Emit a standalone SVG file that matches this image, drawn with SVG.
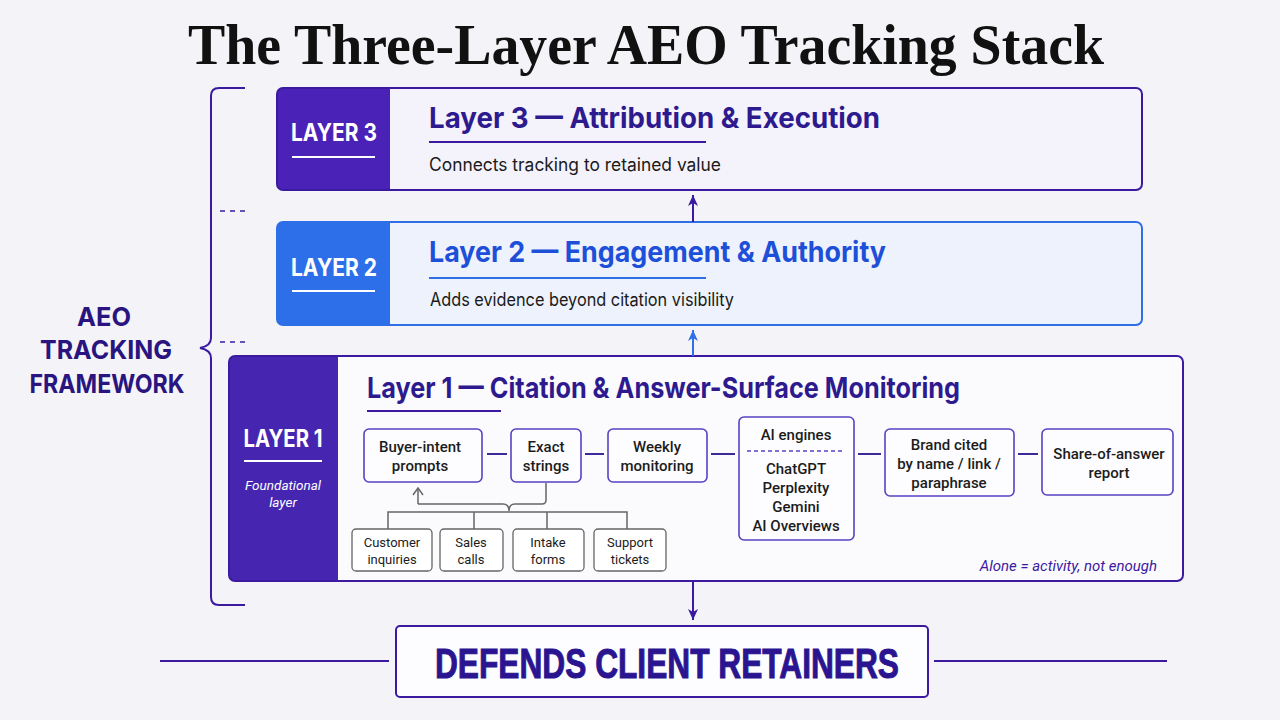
<svg xmlns="http://www.w3.org/2000/svg" width="1280" height="720" viewBox="0 0 1280 720">
<defs>
<style>
.title{font-family:"Liberation Serif","Times New Roman",serif;font-weight:700;font-size:56px;fill:#111}
.sans{font-family:"Roboto","Inter","Liberation Sans",sans-serif}
.lbl{font-family:"Inter","Roboto","Liberation Sans",sans-serif;font-weight:700;font-size:24px;fill:#fff;text-anchor:middle}
.ltitle{font-family:"Inter","Roboto","Liberation Sans",sans-serif;font-weight:700;font-size:29px}
.sub{font-family:"Inter","Roboto","Liberation Sans",sans-serif;font-size:18px;fill:#1a1a1a}
.node{fill:#fdfdff;stroke:#5a40c2;stroke-width:1.6}
.src{fill:#fff;stroke:#666;stroke-width:1.3}
.nt{font-family:"Roboto","Inter","Liberation Sans",sans-serif;font-weight:500;font-size:15px;fill:#1c1c1c;text-anchor:middle}
.st{font-family:"Roboto","Inter","Liberation Sans",sans-serif;font-size:13px;fill:#1c1c1c;text-anchor:middle}
.link{stroke:#3b2a9a;stroke-width:2;fill:none}
.tree{stroke:#666;stroke-width:1.5;fill:none}
.brk{stroke:#3b1aa0;stroke-width:2;fill:none}
.dash{stroke:#3b1aa0;stroke-width:1.6;stroke-dasharray:5 5;fill:none}
.side{font-family:"Inter","Roboto","Liberation Sans",sans-serif;font-weight:700;font-size:26px;fill:#2a1580;text-anchor:middle}
</style>
<marker id="ap" viewBox="0 0 12 12" refX="11" refY="6" markerWidth="12" markerHeight="12" markerUnits="userSpaceOnUse" orient="auto">
<path d="M0,1 L11,6 L0,11 L3,6 Z" fill="#3b1aa0"/>
</marker>
<marker id="ab" viewBox="0 0 12 12" refX="11" refY="6" markerWidth="12" markerHeight="12" markerUnits="userSpaceOnUse" orient="auto">
<path d="M0,1 L11,6 L0,11 L3,6 Z" fill="#2f6fe6"/>
</marker>
<marker id="ag" viewBox="0 0 12 12" refX="11" refY="6" markerWidth="12" markerHeight="12" markerUnits="userSpaceOnUse" orient="auto">
<path d="M4,1 L11,6 L4,11" fill="none" stroke="#666" stroke-width="1.5"/>
</marker>
</defs>
<rect width="1280" height="720" fill="#f4f4f8"/>

<text class="title" x="646" y="64" text-anchor="middle" textLength="916" lengthAdjust="spacingAndGlyphs">The Three-Layer AEO Tracking Stack</text>

<g id="framework-brace">
<path class="brk" d="M245,88 H219 Q211,88 211,96 V338 Q211,346 200,348 Q211,350 211,358 V597 Q211,605 219,605 H245"/>
<line class="dash" x1="220" y1="211" x2="246" y2="211"/>
<line class="dash" x1="220" y1="342" x2="246" y2="342"/>
<text class="side" x="104" y="326" textLength="54" lengthAdjust="spacingAndGlyphs">AEO</text>
<text class="side" x="106" y="359" textLength="132" lengthAdjust="spacingAndGlyphs">TRACKING</text>
<text class="side" x="107" y="393" textLength="155" lengthAdjust="spacingAndGlyphs">FRAMEWORK</text>
</g>

<g id="layer3">
<rect x="277" y="88" width="865" height="102" rx="6" fill="#f4f2fb"/>
<path d="M283,88 H390 V190 H283 Q277,190 277,184 V94 Q277,88 283,88 Z" fill="#4b22b8"/>
<rect x="277" y="88" width="865" height="102" rx="6" fill="none" stroke="#3b1aa0" stroke-width="2"/>
<text class="lbl" x="334" y="141" textLength="86" lengthAdjust="spacingAndGlyphs">LAYER 3</text>
<line x1="292" y1="157" x2="375" y2="157" stroke="#fff" stroke-width="2"/>
<text class="ltitle" x="429" y="128" fill="#2e1a8f" textLength="451" lengthAdjust="spacingAndGlyphs">Layer 3 — Attribution &amp; Execution</text>
<line x1="429" y1="142" x2="706" y2="142" stroke="#3b1aa0" stroke-width="2"/>
<text class="sub" x="429" y="171" textLength="292" lengthAdjust="spacingAndGlyphs">Connects tracking to retained value</text>
</g>

<g id="layer2">
<rect x="277" y="222" width="865" height="103" rx="6" fill="#edf2fc"/>
<path d="M283,222 H390 V325 H283 Q277,325 277,319 V228 Q277,222 283,222 Z" fill="#2d6fe8"/>
<rect x="277" y="222" width="865" height="103" rx="6" fill="none" stroke="#2f6fe6" stroke-width="2"/>
<text class="lbl" x="334" y="276" textLength="86" lengthAdjust="spacingAndGlyphs">LAYER 2</text>
<line x1="292" y1="291" x2="375" y2="291" stroke="#fff" stroke-width="2"/>
<text class="ltitle" x="429" y="262" fill="#1d4fd8" textLength="457" lengthAdjust="spacingAndGlyphs">Layer 2 — Engagement &amp; Authority</text>
<line x1="429" y1="278" x2="706" y2="278" stroke="#2f6fe6" stroke-width="2"/>
<text class="sub" x="430" y="306" textLength="304" lengthAdjust="spacingAndGlyphs">Adds evidence beyond citation visibility</text>
</g>

<g id="layer1">
<rect x="229" y="356" width="954" height="225" rx="6" fill="#fbfbfe"/>
<path d="M235,356 H338 V581 H235 Q229,581 229,575 V362 Q229,356 235,356 Z" fill="#4626b0"/>
<rect x="229" y="356" width="954" height="225" rx="6" fill="none" stroke="#3b1aa0" stroke-width="2"/>
<text class="lbl" x="283" y="447" textLength="79" lengthAdjust="spacingAndGlyphs">LAYER 1</text>
<line x1="244" y1="461" x2="322" y2="461" stroke="#fff" stroke-width="2"/>
<text class="sans" x="283" y="490" font-size="13.5" font-style="italic" fill="#fff" text-anchor="middle">Foundational</text>
<text class="sans" x="283" y="507" font-size="13.5" font-style="italic" fill="#fff" text-anchor="middle">layer</text>
<text class="ltitle" x="367" y="398" font-size="26" fill="#2e1a8f" textLength="593" lengthAdjust="spacingAndGlyphs">Layer 1 — Citation &amp; Answer-Surface Monitoring</text>
<line x1="367" y1="411" x2="501" y2="411" stroke="#3b1aa0" stroke-width="2"/>
<text class="sans" x="1157" y="571" font-size="15" font-style="italic" fill="#3b1aa0" text-anchor="end">Alone = activity, not enough</text>
</g>

<g id="buyer-intent-prompts">
<rect class="node" x="364" y="429" width="118" height="53" rx="5"/>
<text class="nt" x="420" y="452">Buyer-intent</text>
<text class="nt" x="420" y="471">prompts</text>
</g>
<g id="exact-strings">
<rect class="node" x="511" y="429" width="70" height="53" rx="5"/>
<text class="nt" x="546" y="452">Exact</text>
<text class="nt" x="546" y="471">strings</text>
</g>
<g id="weekly-monitoring">
<rect class="node" x="608" y="429" width="99" height="53" rx="5"/>
<text class="nt" x="657" y="452">Weekly</text>
<text class="nt" x="657" y="471">monitoring</text>
</g>
<g id="ai-engines">
<rect class="node" x="739" y="417" width="115" height="123" rx="5"/>
<text class="nt" x="796" y="440">AI engines</text>
<line x1="747" y1="451" x2="845" y2="451" stroke="#5a40c2" stroke-width="1.4" stroke-dasharray="4 3"/>
<text class="nt" x="796" y="474">ChatGPT</text>
<text class="nt" x="796" y="493">Perplexity</text>
<text class="nt" x="796" y="512">Gemini</text>
<text class="nt" x="796" y="531">AI Overviews</text>
</g>
<g id="brand-cited">
<rect class="node" x="885" y="429" width="129" height="67" rx="5"/>
<text class="nt" x="949" y="450">Brand cited</text>
<text class="nt" x="949" y="469">by name / link /</text>
<text class="nt" x="949" y="488">paraphrase</text>
</g>
<g id="share-of-answer">
<rect class="node" x="1042" y="429" width="131" height="66" rx="5"/>
<text class="nt" x="1109" y="459">Share-of-answer</text>
<text class="nt" x="1109" y="478">report</text>
</g>

<g id="customer-inquiries">
<rect class="src" x="352" y="529" width="80" height="42" rx="4"/>
<text class="st" x="392" y="547">Customer</text>
<text class="st" x="392" y="564">inquiries</text>
</g>
<g id="sales-calls">
<rect class="src" x="440" y="529" width="63" height="42" rx="4"/>
<text class="st" x="471" y="547">Sales</text>
<text class="st" x="471" y="564">calls</text>
</g>
<g id="intake-forms">
<rect class="src" x="513" y="529" width="71" height="42" rx="4"/>
<text class="st" x="548" y="547">Intake</text>
<text class="st" x="548" y="564">forms</text>
</g>
<g id="support-tickets">
<rect class="src" x="594" y="529" width="72" height="42" rx="4"/>
<text class="st" x="630" y="547">Support</text>
<text class="st" x="630" y="564">tickets</text>
</g>

<g id="defends-client-retainers">
<rect x="396" y="626" width="532" height="71" rx="4" fill="#fdfdff" stroke="#3b1aa0" stroke-width="2"/>
<text x="667" y="678" font-family="Liberation Sans, Arial, sans-serif" font-weight="700" font-size="42" fill="#2a1490" stroke="#2a1490" stroke-width="1" text-anchor="middle" textLength="464" lengthAdjust="spacingAndGlyphs">DEFENDS CLIENT RETAINERS</text>
</g>

<g id="connectors">
<line x1="693" y1="222" x2="693" y2="195" stroke="#3b1aa0" stroke-width="2" marker-end="url(#ap)"/>
<line x1="693" y1="356" x2="693" y2="330" stroke="#2f6fe6" stroke-width="2" marker-end="url(#ab)"/>
<line x1="693" y1="582" x2="693" y2="620" stroke="#3b1aa0" stroke-width="2" marker-end="url(#ap)"/>
<line class="link" x1="487" y1="454" x2="507" y2="454"/>
<line class="link" x1="585" y1="454" x2="604" y2="454"/>
<line class="link" x1="711" y1="454" x2="735" y2="454"/>
<line class="link" x1="858" y1="454" x2="881" y2="454"/>
<line class="link" x1="1018" y1="454" x2="1038" y2="454"/>
<line x1="160" y1="661" x2="389" y2="661" stroke="#3b1aa0" stroke-width="2"/>
<line x1="934" y1="661" x2="1167" y2="661" stroke="#3b1aa0" stroke-width="2"/>
<path class="tree" d="M418,504 V488" marker-end="url(#ag)"/>
<path class="tree" d="M418,504 H503 Q509,504 509,511 Q509,504 515,504 H542 Q546,504 546,500 V483"/>
<path class="tree" d="M388,529 V512 H627 V529 M474,512 V529 M547,512 V529"/>
</g>
</svg>
